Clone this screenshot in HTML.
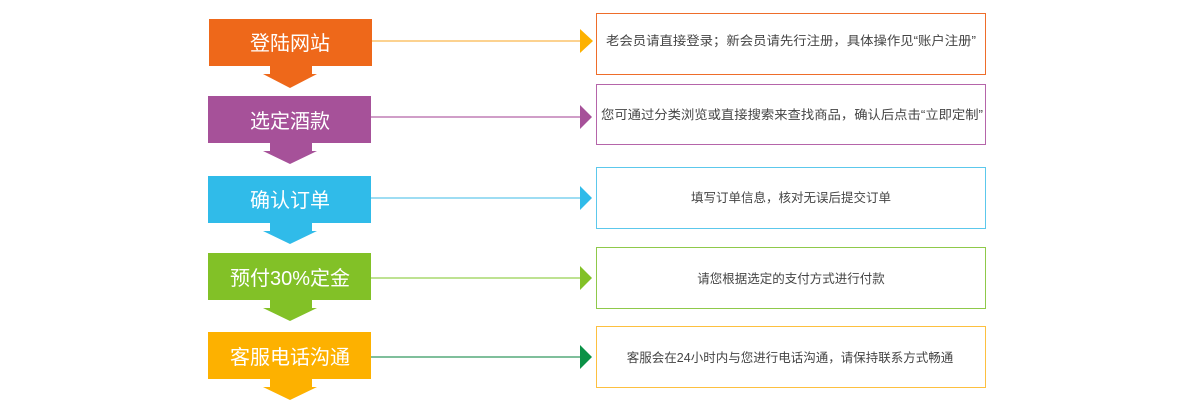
<!DOCTYPE html>
<html><head><meta charset="utf-8"><style>
html,body{margin:0;padding:0;background:#fff;}
svg{display:block;}
text{font-family:"Liberation Sans","Noto Sans CJK SC",sans-serif;}
.l{fill:#fff;font-size:20px;text-anchor:middle;}
.t{fill:#444;font-size:12.5px;text-anchor:middle;}
</style></head><body>
<svg width="1199" height="402" viewBox="0 0 1199 402">
<!-- row 1 -->
<rect x="209" y="19" width="163" height="47" fill="#ee681a"/>
<polygon points="270,66 312,66 312,74 317,74 290,88 263,74 270,74" fill="#ee681a"/>
<text class="l" x="290" y="50">登陆网站</text>
<line x1="372" y1="41" x2="581" y2="41" stroke="#fbc46c" stroke-width="1.5"/>
<polygon points="580,29 593,41 580,53" fill="#fdb100"/>
<rect x="596.5" y="13.5" width="389" height="61" fill="#fff" stroke="#ee6d2a"/>
<text class="t" x="791" y="45" textLength="370" lengthAdjust="spacingAndGlyphs">老会员请直接登录；新会员请先行注册，具体操作见“账户注册”</text>
<!-- row 2 -->
<rect x="208" y="96" width="163" height="47" fill="#a65199"/>
<polygon points="270,143 312,143 312,151 317,151 290,164 263,151 270,151" fill="#a65199"/>
<text class="l" x="290" y="128">选定酒款</text>
<line x1="371" y1="117" x2="581" y2="117" stroke="#c17fb6" stroke-width="1.5"/>
<polygon points="580,105 592,117 580,129" fill="#a65199"/>
<rect x="596.5" y="84.5" width="389" height="60" fill="#fff" stroke="#b565aa"/>
<text class="t" x="792" y="119" textLength="382" lengthAdjust="spacingAndGlyphs">您可通过分类浏览或直接搜索来查找商品，确认后点击“立即定制”</text>
<!-- row 3 -->
<rect x="208" y="176" width="163" height="47" fill="#30bbe9"/>
<polygon points="270,223 312,223 312,231 317,231 290,244 263,231 270,231" fill="#30bbe9"/>
<text class="l" x="290" y="207">确认订单</text>
<line x1="371" y1="198" x2="581" y2="198" stroke="#7fd2ef" stroke-width="1.5"/>
<polygon points="580,186 592,198 580,210" fill="#30bbe9"/>
<rect x="596.5" y="167.5" width="389" height="61" fill="#fff" stroke="#5cc8ec"/>
<text class="t" x="791" y="202">填写订单信息，核对无误后提交订单</text>
<!-- row 4 -->
<rect x="208" y="253" width="163" height="47" fill="#82c127"/>
<polygon points="270,300 312,300 312,308 317,308 290,321 263,308 270,308" fill="#82c127"/>
<text class="l" x="290" y="285">预付30%定金</text>
<line x1="371" y1="278" x2="581" y2="278" stroke="#a8d86e" stroke-width="1.5"/>
<polygon points="580,266 592,278 580,290" fill="#82c127"/>
<rect x="596.5" y="247.5" width="389" height="61" fill="#fff" stroke="#8fc94a"/>
<text class="t" x="791" y="283">请您根据选定的支付方式进行付款</text>
<!-- row 5 -->
<rect x="208" y="332" width="163" height="47" fill="#fdb100"/>
<polygon points="270,379 312,379 312,387 317,387 290,400 263,387 270,387" fill="#fdb100"/>
<text class="l" x="290" y="364">客服电话沟通</text>
<line x1="371" y1="357" x2="581" y2="357" stroke="#55aa7a" stroke-width="1.5"/>
<polygon points="580,345 592,357 580,369" fill="#0a9146"/>
<rect x="596.5" y="326.5" width="389" height="61" fill="#fff" stroke="#fdc040"/>
<text class="t" x="790" y="362">客服会在24小时内与您进行电话沟通，请保持联系方式畅通</text>
</svg>
</body></html>
